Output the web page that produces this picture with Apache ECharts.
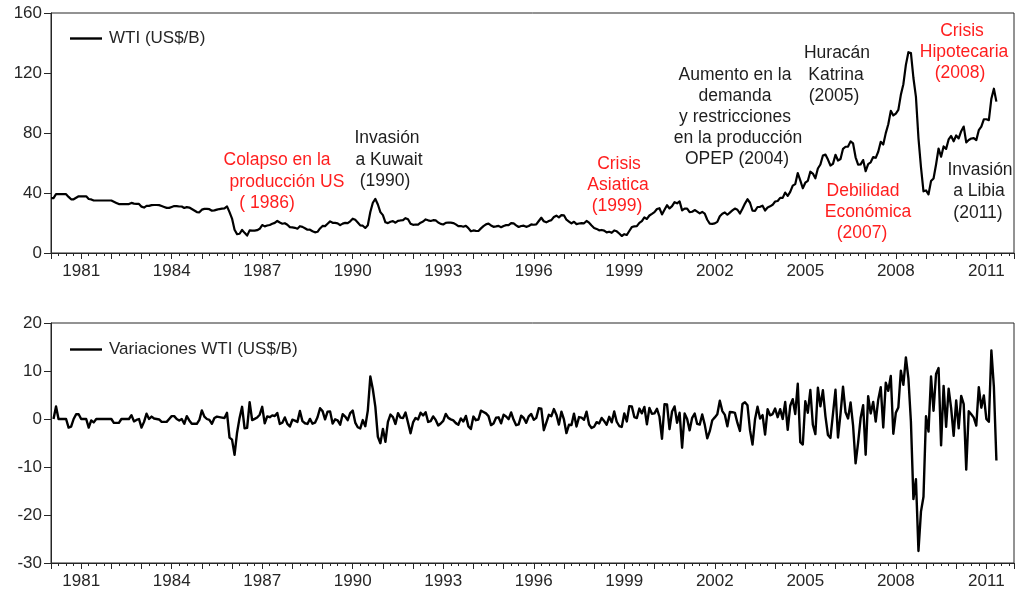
<!DOCTYPE html>
<html>
<head>
<meta charset="utf-8">
<title>WTI (US$/B)</title>
<script src="https://cdn.jsdelivr.net/npm/echarts@6/dist/echarts.min.js"></script>
<style>
  html, body { margin: 0; padding: 0; background: #ffffff; }
  #chart { width: 1016px; height: 594px; }
</style>
</head>
<body>
<div id="chart"></div>
<script>
// Monthly WTI spot price, US$ per barrel, from January 1980 to May 2011
const startYear = 1980;
const wtiPrice = [
  36.6, 36.6, 39.2, 39.2, 39.2, 39.2, 39.2, 37.4, 35.8, 35.8, 36.8, 37.8,          // 1980
  37.8, 37.8, 37.8, 36.0, 35.7, 35.0, 35.0, 35.0, 35.0, 35.0, 35.0, 35.0,          // 1981
  35.0, 34.2, 33.4, 32.6, 32.6, 32.6, 32.6, 32.6, 33.4, 32.9, 32.7, 32.7,          // 1982
  30.9, 30.3, 31.4, 31.4, 31.9, 32.0, 32.0, 31.9, 31.3, 30.7, 30.1, 30.1,          // 1983
  30.7, 31.3, 31.3, 31.0, 31.0, 30.0, 30.6, 30.3, 29.3, 28.3, 27.3, 27.1,          // 1984
  28.9, 29.4, 29.4, 29.2, 28.2, 28.4, 28.9, 29.3, 29.6, 29.8, 31.1, 27.23,         // 1985
  22.93, 15.46, 12.61, 12.84, 15.38, 13.43, 11.59, 15.10, 14.87, 14.90, 15.22, 16.11, // 1986
  18.65, 17.75, 18.30, 18.68, 19.44, 20.07, 21.34, 20.31, 19.53, 19.86, 18.85, 17.28, // 1987
  17.13, 16.80, 16.20, 17.86, 17.42, 16.53, 15.50, 15.52, 14.54, 13.77, 14.14, 16.38, // 1988
  18.02, 17.94, 19.48, 21.07, 20.12, 20.05, 19.78, 18.58, 19.59, 20.10, 19.86, 21.10, // 1989
  22.86, 22.11, 20.39, 18.43, 18.20, 16.70, 18.45, 27.31, 33.51, 36.04, 32.33, 27.28, // 1990
  25.23, 20.48, 19.90, 20.83, 21.23, 20.19, 21.40, 21.69, 21.89, 23.23, 22.46, 19.50, // 1991
  18.79, 19.01, 18.92, 20.23, 20.98, 22.39, 21.78, 21.34, 21.88, 21.69, 20.34, 19.41, // 1992
  19.03, 20.09, 20.32, 20.25, 19.95, 19.09, 17.89, 18.01, 17.50, 18.15, 16.61, 14.52, // 1993
  15.03, 14.78, 14.68, 16.42, 17.89, 19.06, 19.66, 18.38, 17.45, 17.72, 18.07, 17.16, // 1994
  18.04, 18.57, 18.54, 19.90, 19.74, 18.45, 17.33, 18.02, 18.23, 17.43, 17.99, 19.03, // 1995
  18.85, 19.09, 21.33, 23.50, 21.17, 20.42, 21.30, 21.90, 23.97, 24.88, 23.71, 25.23, // 1996
  25.13, 22.18, 20.97, 19.70, 20.82, 19.26, 19.66, 19.95, 19.80, 21.33, 20.19, 18.33, // 1997
  16.72, 16.06, 15.12, 15.35, 14.91, 13.72, 14.17, 13.47, 15.03, 14.46, 13.00, 11.35, // 1998
  12.52, 12.01, 14.68, 17.31, 17.72, 17.92, 20.10, 21.28, 23.80, 22.69, 25.00, 26.10, // 1999
  27.26, 29.37, 29.84, 25.72, 28.79, 31.82, 29.70, 31.26, 33.88, 33.11, 34.42, 28.44, // 2000
  29.59, 29.61, 27.24, 27.49, 28.63, 27.60, 26.43, 27.37, 26.20, 22.17, 19.64, 19.39, // 2001
  19.72, 20.72, 24.53, 26.18, 27.04, 25.52, 26.97, 28.39, 29.66, 28.84, 26.35, 29.46, // 2002
  32.95, 35.83, 33.51, 28.17, 28.11, 30.66, 30.76, 31.57, 28.31, 30.34, 31.11, 32.13, // 2003
  34.31, 34.69, 36.74, 36.75, 40.28, 38.03, 40.78, 44.90, 45.94, 53.28, 48.47, 43.15, // 2004
  46.84, 48.15, 54.19, 52.98, 49.83, 56.35, 58.99, 64.98, 65.59, 62.26, 58.32, 59.41, // 2005
  65.49, 61.63, 62.69, 69.44, 70.84, 70.95, 74.41, 73.04, 63.80, 58.89, 59.08, 61.96, // 2006
  54.51, 59.28, 60.44, 63.98, 63.46, 67.49, 74.12, 72.36, 79.92, 85.80, 94.77, 91.69, // 2007
  92.97, 95.39, 105.45, 112.58, 125.40, 133.88, 133.37, 116.67, 104.11, 76.61, 57.31, 41.12, // 2008
  41.71, 39.09, 47.94, 49.65, 59.03, 69.64, 64.15, 71.05, 69.41, 75.72, 77.99, 74.47, // 2009
  78.33, 76.39, 81.20, 84.29, 73.74, 75.34, 76.32, 76.60, 75.24, 81.89, 84.25, 89.15, // 2010
  89.17, 88.58, 102.86, 109.53, 100.90                                                 // 2011
];

// Month-on-month change of the WTI price, from February 1980 to May 2011
const wtiChange = [
  0.0, 2.6, 0.0, 0.0, 0.0, 0.0, -1.8, -1.6, 0.0, 1.0, 1.0,                           // 1980 (Feb-Dec)
  0.0, 0.0, 0.0, -1.8, -0.3, -0.7, 0.0, 0.0, 0.0, 0.0, 0.0, 0.0,                      // 1981
  0.0, -0.8, -0.8, -0.8, 0.0, 0.0, 0.0, 0.0, 0.8, -0.5, -0.2, 0.0,                    // 1982
  -1.8, -0.6, 1.1, 0.0, 0.5, 0.1, 0.0, -0.1, -0.6, -0.6, -0.6, 0.0,                   // 1983
  0.6, 0.6, 0.0, -0.3, 0.0, -1.0, 0.6, -0.3, -1.0, -1.0, -1.0, -0.2,                  // 1984
  1.8, 0.5, 0.0, -0.2, -1.0, 0.2, 0.5, 0.4, 0.3, 0.2, 1.3, -3.87,                     // 1985
  -4.30, -7.47, -2.85, 0.23, 2.54, -1.95, -1.84, 3.51, -0.23, 0.03, 0.32, 0.89,       // 1986
  2.54, -0.90, 0.55, 0.38, 0.76, 0.63, 1.27, -1.03, -0.78, 0.33, -1.01, -1.57,        // 1987
  -0.15, -0.33, -0.60, 1.66, -0.44, -0.89, -1.03, 0.02, -0.98, -0.77, 0.37, 2.24,     // 1988
  1.64, -0.08, 1.54, 1.59, -0.95, -0.07, -0.27, -1.20, 1.01, 0.51, -0.24, 1.24,       // 1989
  1.76, -0.75, -1.72, -1.96, -0.23, -1.50, 1.75, 8.86, 6.20, 2.53, -3.71, -5.05,      // 1990
  -2.05, -4.75, -0.58, 0.93, 0.40, -1.04, 1.21, 0.29, 0.20, 1.34, -0.77, -2.96,       // 1991
  -0.71, 0.22, -0.09, 1.31, 0.75, 1.41, -0.61, -0.44, 0.54, -0.19, -1.35, -0.93,      // 1992
  -0.38, 1.06, 0.23, -0.07, -0.30, -0.86, -1.20, 0.12, -0.51, 0.65, -1.54, -2.09,     // 1993
  0.51, -0.25, -0.10, 1.74, 1.47, 1.17, 0.60, -1.28, -0.93, 0.27, 0.35, -0.91,        // 1994
  0.88, 0.53, -0.03, 1.36, -0.16, -1.29, -1.12, 0.69, 0.21, -0.80, 0.56, 1.04,        // 1995
  -0.18, 0.24, 2.24, 2.17, -2.33, -0.75, 0.88, 0.60, 2.07, 0.91, -1.17, 1.52,         // 1996
  -0.10, -2.95, -1.21, -1.27, 1.12, -1.56, 0.40, 0.29, -0.15, 1.53, -1.14, -1.86,     // 1997
  -1.61, -0.66, -0.94, 0.23, -0.44, -1.19, 0.45, -0.70, 1.56, -0.57, -1.46, -1.65,    // 1998
  1.17, -0.51, 2.67, 2.63, 0.41, 0.20, 2.18, 1.18, 2.52, -1.11, 2.31, 1.10,           // 1999
  1.16, 2.11, 0.47, -4.12, 3.07, 3.03, -2.12, 1.56, 2.62, -0.77, 1.31, -5.98,         // 2000
  1.15, 0.02, -2.37, 0.25, 1.14, -1.03, -1.17, 0.94, -1.17, -4.03, -2.53, -0.25,      // 2001
  0.33, 1.00, 3.81, 1.65, 0.86, -1.52, 1.45, 1.42, 1.27, -0.82, -2.49, 3.11,          // 2002
  3.49, 2.88, -2.32, -5.34, -0.06, 2.55, 0.10, 0.81, -3.26, 2.03, 0.77, 1.02,         // 2003
  2.18, 0.38, 2.05, 0.01, 3.53, -2.25, 2.75, 4.12, 1.04, 7.34, -4.81, -5.32,          // 2004
  3.69, 1.31, 6.04, -1.21, -3.15, 6.52, 2.64, 5.99, 0.61, -3.33, -3.94, 1.09,         // 2005
  6.08, -3.86, 1.06, 6.75, 1.40, 0.11, 3.46, -1.37, -9.24, -4.91, 0.19, 2.88,         // 2006
  -7.45, 4.77, 1.16, 3.54, -0.52, 4.03, 6.63, -1.76, 7.56, 5.88, 8.97, -3.08,         // 2007
  1.28, 2.42, 10.06, 7.13, 12.82, 8.48, -0.51, -16.70, -12.56, -27.50, -19.30, -16.19, // 2008
  0.59, -2.62, 8.85, 1.71, 9.38, 10.61, -5.49, 6.90, -1.64, 6.31, 2.27, -3.52,        // 2009
  3.86, -1.94, 4.81, 3.09, -10.55, 1.60, 0.98, 0.28, -1.36, 6.65, 2.36, 4.90,         // 2010
  0.02, -0.59, 14.28, 6.67, -8.63                                                     // 2011
];

// Year labels on the time axis (every third year)
const labelYears = [1981, 1984, 1987, 1990, 1993, 1996, 1999, 2002, 2005, 2008, 2011];

// Event notes, line by line
const RED = '#ff1e1e';
const DARK = '#1e1e1e';
const notes = [
  { text: 'Colapso en la',    x: 277, y: 160, color: RED },
  { text: 'producción US',    x: 287, y: 182, color: RED },
  { text: '( 1986)',          x: 267, y: 203, color: RED },
  { text: 'Invasión',         x: 387, y: 138, color: DARK },
  { text: 'a Kuwait',         x: 389, y: 160, color: DARK },
  { text: '(1990)',           x: 385, y: 181, color: DARK },
  { text: 'Crisis',           x: 619, y: 164, color: RED },
  { text: 'Asiatica',         x: 618, y: 185, color: RED },
  { text: '(1999)',           x: 617, y: 206, color: RED },
  { text: 'Aumento en la',    x: 735, y: 75,  color: DARK },
  { text: 'demanda',          x: 735, y: 96,  color: DARK },
  { text: 'y restricciones',  x: 735, y: 117, color: DARK },
  { text: 'en la producción', x: 738, y: 138, color: DARK },
  { text: 'OPEP (2004)',      x: 737, y: 159, color: DARK },
  { text: 'Huracán',          x: 837, y: 53,  color: DARK },
  { text: 'Katrina',          x: 836, y: 75,  color: DARK },
  { text: '(2005)',           x: 834, y: 96,  color: DARK },
  { text: 'Crisis',           x: 962, y: 31,  color: RED },
  { text: 'Hipotecaria',      x: 964, y: 52,  color: RED },
  { text: '(2008)',           x: 960, y: 73,  color: RED },
  { text: 'Debilidad',        x: 863, y: 191, color: RED },
  { text: 'Económica',        x: 868, y: 212, color: RED },
  { text: '(2007)',           x: 862, y: 233, color: RED },
  { text: 'Invasión',         x: 980, y: 170, color: DARK },
  { text: 'a Libia',          x: 979, y: 191, color: DARK },
  { text: '(2011)',           x: 978, y: 213, color: DARK }
];

const FONT = '"Liberation Sans", Arial, Helvetica, sans-serif';
const AXIS_COLOR = '#262626';

// Pair each monthly value with its decimal-year position
const priceSeries = wtiPrice.map((v, i) => [startYear + i / 12, v]);
const changeSeries = wtiChange.map((v, i) => [startYear + (i + 1) / 12, v]);

const chart = echarts.init(document.getElementById('chart'), null, { renderer: 'canvas' });

function timeAxis(gridIndex) {
  return {
    type: 'value',
    gridIndex: gridIndex,
    min: startYear,
    max: 2011 + 11 / 12,
    interval: 1,
    axisLine: { show: true, onZero: false, lineStyle: { color: AXIS_COLOR, width: 1 } },
    axisTick: { show: true, inside: false, length: 6, lineStyle: { color: AXIS_COLOR, width: 1 } },
    minorTick: { show: true, splitNumber: 4, length: 3, lineStyle: { color: AXIS_COLOR, width: 1 } },
    splitLine: { show: false },
    minorSplitLine: { show: false },
    axisLabel: {
      show: true,
      margin: 10,
      fontSize: 17,
      fontFamily: FONT,
      color: AXIS_COLOR,
      showMinLabel: true,
      showMaxLabel: true,
      formatter: function (v) {
        const y = Math.round(v);
        return (Math.abs(v - y) < 1e-6 && labelYears.indexOf(y) >= 0) ? String(y) : '';
      }
    }
  };
}

function valueAxis(gridIndex, min, max, interval) {
  return {
    type: 'value',
    gridIndex: gridIndex,
    min: min,
    max: max,
    interval: interval,
    axisLine: { show: true, onZero: false, lineStyle: { color: AXIS_COLOR, width: 1 } },
    axisTick: { show: true, inside: false, length: 7, lineStyle: { color: AXIS_COLOR, width: 1 } },
    splitLine: { show: false },
    axisLabel: { margin: 9, fontSize: 17, fontFamily: FONT, color: AXIS_COLOR }
  };
}

// Legend key: a plain black stroke followed by the series name
function legendBox(name, top) {
  return {
    data: [name],
    left: 65, top: top,
    icon: 'rect',
    itemWidth: 32, itemHeight: 2.4, itemGap: 0,
    itemStyle: { color: '#000000', borderWidth: 0 },
    selectedMode: false,
    textStyle: { fontSize: 17, fontFamily: FONT, color: AXIS_COLOR, padding: [0, 0, 0, 2] }
  };
}

const option = {
  animation: false,
  backgroundColor: '#ffffff',
  grid: [
    { left: 51, top: 13, width: 963, height: 240, show: true, borderColor: AXIS_COLOR, borderWidth: 1,
      backgroundColor: 'transparent', containLabel: false, outerBoundsMode: 'none' },
    { left: 51, top: 323, width: 963, height: 240, show: true, borderColor: AXIS_COLOR, borderWidth: 1,
      backgroundColor: 'transparent', containLabel: false, outerBoundsMode: 'none' }
  ],
  xAxis: [timeAxis(0), timeAxis(1)],
  yAxis: [valueAxis(0, 0, 160, 40), valueAxis(1, -30, 20, 10)],
  legend: [legendBox('WTI (US$/B)', 25), legendBox('Variaciones WTI (US$/B)', 336)],
  series: [
    {
      name: 'WTI (US$/B)',
      type: 'line',
      xAxisIndex: 0, yAxisIndex: 0,
      data: priceSeries,
      symbol: 'none', showSymbol: false,
      lineStyle: { color: '#000000', width: 2.2, join: 'round' },
      itemStyle: { color: '#000000' },
      silent: true
    },
    {
      name: 'Variaciones WTI (US$/B)',
      type: 'line',
      xAxisIndex: 1, yAxisIndex: 1,
      data: changeSeries,
      symbol: 'none', showSymbol: false,
      lineStyle: { color: '#000000', width: 2.4, join: 'round' },
      itemStyle: { color: '#000000' },
      silent: true
    }
  ],
  graphic: notes.map(n => ({
    type: 'text',
    x: n.x,
    y: n.y,
    silent: true,
    style: {
      text: n.text,
      fill: n.color,
      font: '17.5px ' + FONT,
      textAlign: 'center',
      align: 'center',
      textVerticalAlign: 'middle',
      verticalAlign: 'middle'
    }
  }))
};

chart.setOption(option);
</script>
</body>
</html>
